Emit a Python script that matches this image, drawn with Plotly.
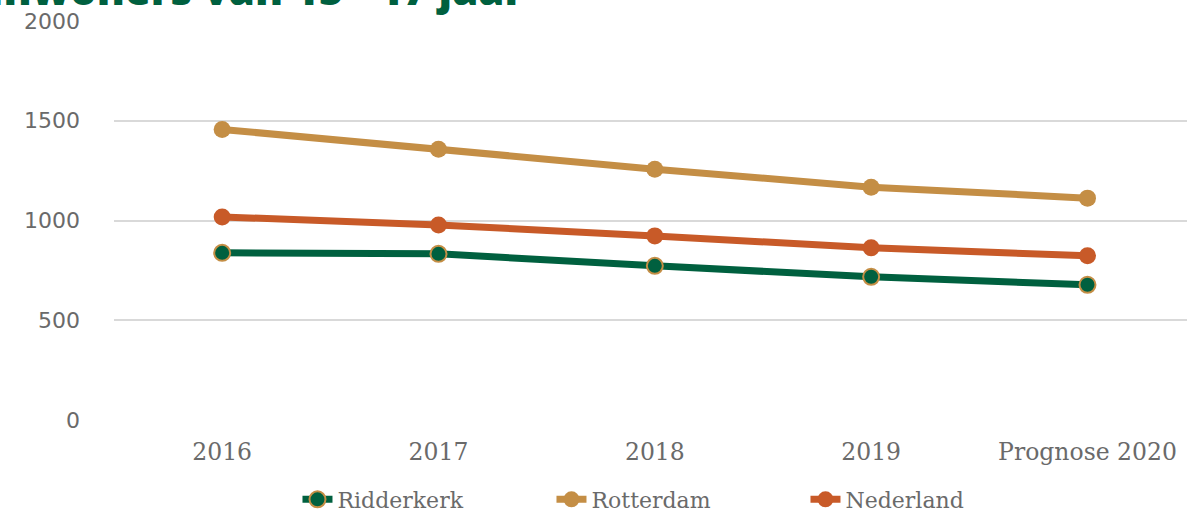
import plotly.graph_objects as go

# data
jaren = ["2016", "2017", "2018", "2019", "Prognose 2020"]
ridderkerk = [838, 833, 773, 718, 678]
rotterdam = [1456, 1357, 1257, 1167, 1112]
nederland = [1018, 978, 923, 863, 823]
y_ticks = [0, 500, 1000, 1500, 2000]

groen = "#00603f"
goud = "#c48e45"
oranje = "#c85a28"
tekst = "#6a6a6a"

fig = go.Figure()
fig.add_trace(go.Scatter(
    x=jaren, y=ridderkerk, name="Ridderkerk", mode="lines+markers",
    line=dict(color=groen, width=7),
    marker=dict(size=16, color=groen, line=dict(color=goud, width=2)),
))
fig.add_trace(go.Scatter(
    x=jaren, y=rotterdam, name="Rotterdam", mode="lines+markers",
    line=dict(color=goud, width=7),
    marker=dict(size=17, color=goud),
))
fig.add_trace(go.Scatter(
    x=jaren, y=nederland, name="Nederland", mode="lines+markers",
    line=dict(color=oranje, width=7),
    marker=dict(size=17, color=oranje),
))

# title is partly cut off at the top, as in the reference
fig.add_annotation(
    text="Inwoners van 15 - 17 jaar", xref="paper", yref="paper",
    x=-0.118, y=1.003, xanchor="left", yanchor="bottom", showarrow=False,
    font=dict(family="Open Sans", size=42, color=groen, weight=800),
)

fig.update_layout(
    width=1187, height=515,
    margin=dict(l=114, r=0, t=20, b=94),
    paper_bgcolor="white", plot_bgcolor="white",
    showlegend=True,
    legend=dict(
        orientation="h", x=0.171, xanchor="left",
        yref="container", y=0.03, yanchor="middle",
        font=dict(family="DejaVu Serif", size=22, color=tekst),
        itemwidth=30, entrywidthmode="pixels", entrywidth=209,
    ),
    xaxis=dict(
        type="category", range=[-0.5, 4.46], automargin=False,
        showgrid=False, showline=False, ticks="",
        tickfont=dict(family="DejaVu Serif", size=23.5, color=tekst),
        ticklabelstandoff=14,
    ),
    yaxis=dict(
        range=[-4, 2004], tickvals=y_ticks, automargin=False,
        showgrid=True, gridcolor="#d9d9d9", gridwidth=2,
        zeroline=False, showline=False,
        tickfont=dict(family="DejaVu Sans", size=22, color=tekst),
        ticklabelstandoff=33,
    ),
)

# drop the default 8px page margin so the figure fills the window
fig.write_html(
    "out.html",
    config={"displayModeBar": False},
    post_script="document.body.style.margin='0px';",
)
